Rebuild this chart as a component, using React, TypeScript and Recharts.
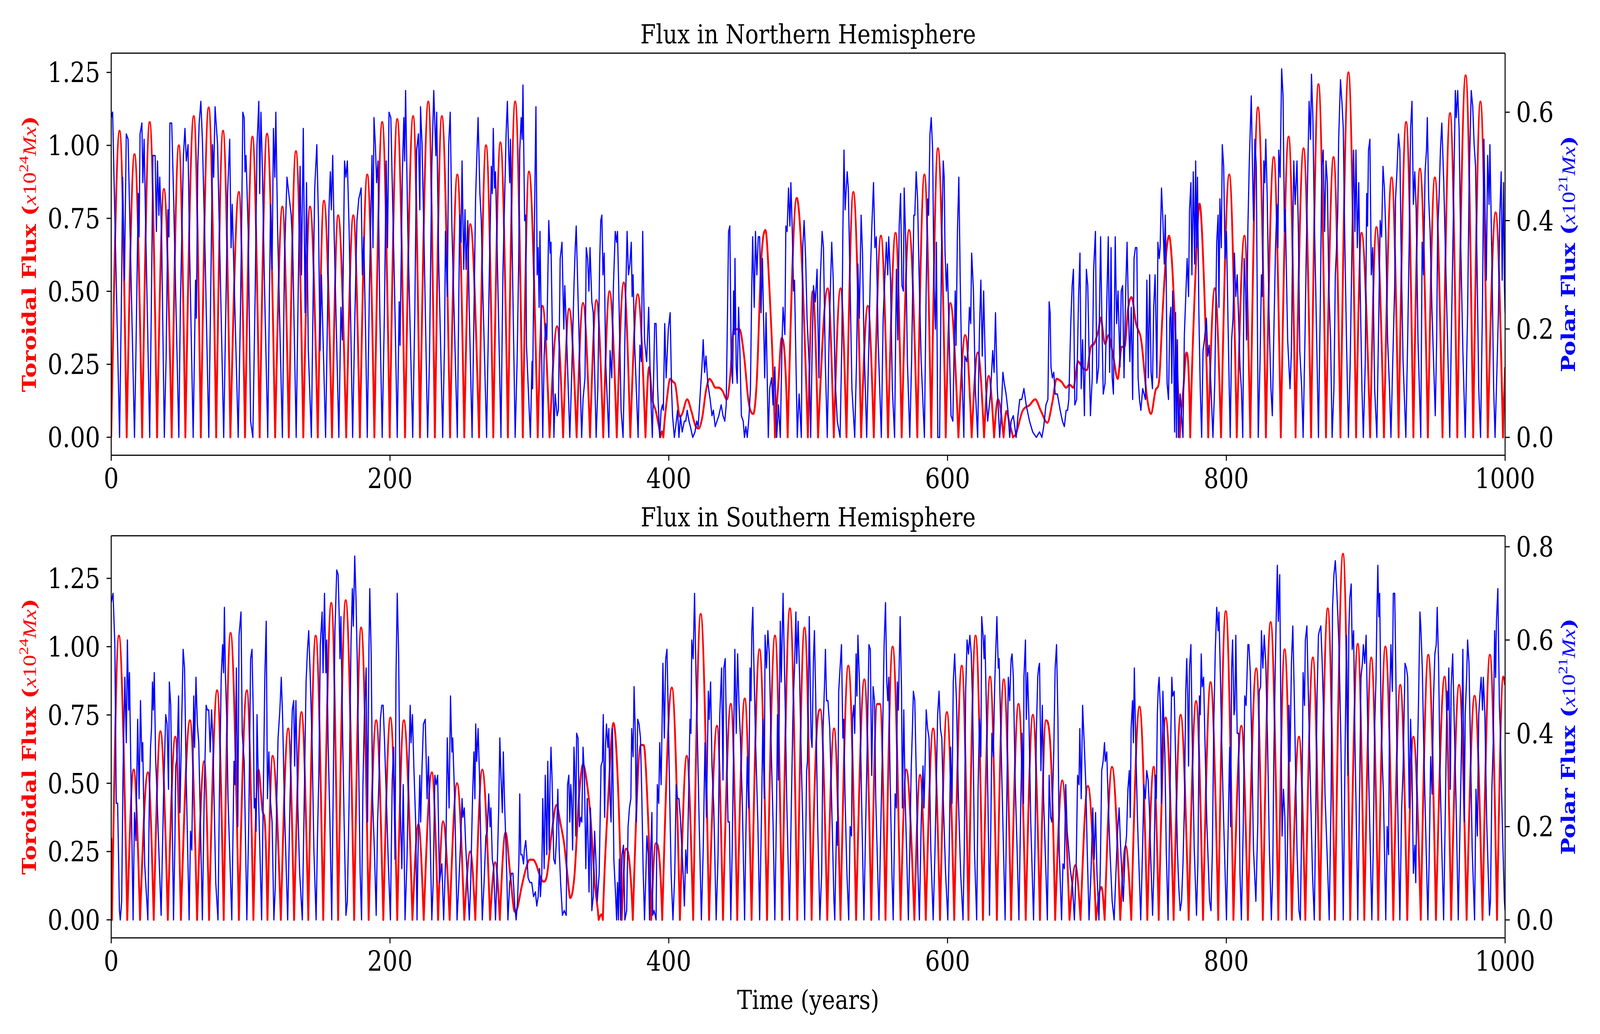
import React from 'react'
import { LineChart, Line, XAxis, YAxis, ReferenceLine } from 'recharts'

// [time (years), value] pairs
const northToroidal: number[][] = [
  [0, 0], [6.0, 1.05], [11.1, 0], [16.7, 0.97], [22.2, 0], [27.6, 1.08], [32.9, 0], [37.8, 0.85], [43.4, 0], [48.5, 1.0], [53.2, 0],
  [59.2, 1.1], [64.3, 0], [69.9, 1.13], [75.3, 0], [80.2, 1.05], [85.5, 0], [91.6, 0.84], [96.0, 0], [101.3, 1.03], [106.5, 0],
  [111.8, 1.04], [117.6, 0], [122.8, 0.79], [127.4, 0], [132.5, 0.98], [137.8, 0], [142.6, 0.79], [148.2, 0], [152.6, 0.81], [158.4, 0],
  [162.8, 0.76], [168.6, 0], [173.7, 0.76], [178.4, 0], [183.7, 0.9], [188.8, 0], [194.4, 1.08], [199.8, 0], [205.2, 1.09], [210.8, 0],
  [216.6, 1.1], [221.5, 0], [227.5, 1.15], [232.2, 0], [237.2, 1.1], [243.1, 0], [248.3, 0.9], [253.3, 0], [257.6, 0.73], [263.9, 0],
  [268.9, 1.0], [274.1, 0], [279.2, 1.01], [284.6, 0], [289.8, 1.15], [295.3, 0], [299.7, 0.91], [306.0, 0], [309.4, 0.45], [314.5, 0],
  [319.9, 0.38], [324.2, 0], [328.5, 0.44], [333.9, 0], [338.5, 0.46], [343.5, 0], [348.1, 0.47], [353.0, 0], [357.5, 0.5], [362.7, 0],
  [367.7, 0.53], [372.4, 0], [377.7, 0.49], [383.3, 0], [385.9, 0.24], [388.2, 0.13], [390.7, 0.09], [394.0, 0], [395.1, 0.02], [396.1, 0],
  [398.9, 0.14], [401.0, 0.2], [403.0, 0.19], [404.7, 0.18], [408.0, 0.07], [409.6, 0.08], [413.2, 0.13], [416.2, 0.09], [419.1, 0.04],
  [421.4, 0.03], [424.1, 0.07], [426.7, 0.16], [429.3, 0.2], [431.0, 0.19], [433.5, 0.17], [435.9, 0.17], [438.4, 0.16], [441.7, 0.13],
  [444.1, 0.21], [446.6, 0.37], [450.7, 0.37], [454.0, 0.28], [457.3, 0.12], [460.6, 0.08], [463.1, 0.19], [466.4, 0.61], [469.3, 0.71],
  [472.1, 0.52], [476.2, 0], [478.7, 0.19], [481.0, 0.34], [483.3, 0.27], [485.3, 0], [491.8, 0.82], [499.8, 0], [503.3, 0.5], [507.1, 0],
  [514.0, 0.51], [518.4, 0], [523.2, 0.51], [527.5, 0], [532.4, 0.84], [538.0, 0], [542.8, 0.45], [547.1, 0], [552.2, 0.69], [557.3, 0],
  [562.7, 0.7], [567.1, 0], [572.4, 0.71], [578.3, 0], [583.4, 0.9], [588.3, 0], [593.1, 0.99], [598.7, 0], [602.0, 0.46], [607.8, 0],
  [612.7, 0.35], [617.3, 0], [621.7, 0.29], [626.2, 0], [629.5, 0.21], [633.4, 0], [636.2, 0.13], [640.2, 0], [642.3, 0.09], [644.3, 0.05],
  [646.9, 0], [648.9, 0.01], [653.8, 0.09], [658.8, 0.11], [662.9, 0.13], [667.0, 0.09], [671.6, 0.05], [675.2, 0.12], [678.2, 0.2],
  [681.8, 0.19], [685.1, 0.17], [687.5, 0.18], [690.3, 0.17], [693.6, 0.26], [696.6, 0.24], [699.9, 0.23], [702.8, 0.31], [705.1, 0.32],
  [708.4, 0.37], [709.8, 0.41], [713.0, 0.32], [715.5, 0.35], [718.8, 0.28], [722.1, 0.2], [724.9, 0.31], [727.0, 0.31], [729.5, 0.44],
  [732.0, 0.48], [735.2, 0.39], [739.0, 0.33], [743.0, 0.14], [745.9, 0.08], [749.2, 0.16], [751.7, 0.19], [754.3, 0.43], [756.9, 0.63],
  [758.9, 0.69], [761.0, 0.6], [763.6, 0.34], [766.6, 0], [769.4, 0.18], [771.3, 0.29], [772.8, 0.24], [774.1, 0], [777.8, 0.55],
  [780.8, 0.8], [783.7, 0.57], [787.0, 0], [791.7, 0.51], [796.2, 0], [802.1, 0.9], [807.5, 0], [813.0, 0.69], [817.2, 0], [822.7, 1.13],
  [828.4, 0], [834.0, 0.96], [839.1, 0], [844.7, 1.03], [849.7, 0], [855.4, 0.99], [860.8, 0], [866.1, 1.21], [871.5, 0], [876.9, 0.96],
  [881.9, 0], [887.6, 1.25], [893.1, 0], [897.0, 0.7], [903.2, 0], [907.7, 0.72], [913.1, 0], [918.6, 0.89], [923.6, 0], [929.0, 1.08],
  [934.2, 0], [938.9, 0.92], [944.6, 0], [949.6, 0.89], [955.1, 0], [960.5, 1.11], [965.7, 0], [971.7, 1.24], [977.1, 0], [982.3, 1.15],
  [987.6, 0], [993.2, 0.77], [998.5, 0], [1000, 0.24],
]

const northPolar: number[][] = [
  [0, 0.59], [1, 0.6], [6.0, 0],
  [7.4, 0.27], [8.2, 0.48], [9.5, 0.29], [10.8, 0.56], [12.1, 0.55], [13.1, 0.43], [16.7, 0],
  [17.7, 0.15], [19.4, 0.45], [20.0, 0.37], [20.7, 0.56], [22.0, 0.58], [22.7, 0.47], [23.6, 0.55], [25.0, 0.35], [27.6, 0],
  [28.7, 0.22], [29.9, 0.52], [31.5, 0.52], [32.4, 0.38], [33.2, 0.51], [34.2, 0.41], [34.8, 0.48], [36.1, 0.38], [38.1, 0],
  [39.4, 0.15], [40.7, 0.42], [41.4, 0.37], [42.1, 0.58], [43.4, 0.58], [44.7, 0.45], [48.5, 0],
  [49.6, 0.24], [51.8, 0.52], [52.9, 0.57], [53.9, 0.51], [55.1, 0.54], [56.2, 0.35], [58.8, 0],
  [60.5, 0.29], [61.1, 0.22], [62.1, 0.5], [63.1, 0.58], [64.3, 0.62], [65.4, 0.55], [67.1, 0.37], [70.0, 0],
  [71.7, 0.33], [72.7, 0.54], [73.5, 0.48], [74.5, 0.61], [76.3, 0.54], [77.6, 0.38], [80.7, 0],
  [82.5, 0.28], [83.5, 0.45], [85.0, 0.55], [86.0, 0.35], [86.8, 0.43], [91.1, 0],
  [92.7, 0.23], [93.7, 0.42], [94.4, 0.6], [95.4, 0.59], [96.0, 0.49], [96.7, 0.52], [98.3, 0.38], [100.0, 0.03], [101.6, 0],
  [103.3, 0.27], [104.6, 0.54], [105.9, 0.62], [106.5, 0.45], [107.4, 0.6], [108.5, 0.49], [109.8, 0.3], [112.3, 0],
  [114.3, 0.43], [115.4, 0.31], [116.4, 0.57], [117.4, 0.48], [118.1, 0.6], [119.4, 0.38], [122.8, 0],
  [124.3, 0.33], [126.1, 0.48], [127.4, 0.45], [129.1, 0.41], [130.2, 0.35], [132.7, 0],
  [134.2, 0.28], [135.5, 0.5], [136.5, 0.3], [137.8, 0.57], [139.1, 0.23], [140.1, 0.47], [141.4, 0.16], [143.6, 0],
  [145.0, 0.29], [146.0, 0.46], [147.5, 0.54], [148.7, 0.4], [149.8, 0.16], [150.8, 0.3], [153.8, 0],
  [155.2, 0.23], [156.2, 0.42], [157.2, 0.49], [157.9, 0.42], [158.9, 0.52], [159.9, 0.38], [163.3, 0],
  [164.8, 0.24], [165.8, 0.18], [167.4, 0.51], [168.4, 0.48], [169.4, 0.51], [170.7, 0.38], [173.2, 0],
  [174.7, 0.21], [176.3, 0.4], [177.6, 0.44], [179.3, 0.46], [180.2, 0.3], [181.2, 0.37], [182.5, 0.19], [183.7, 0],
  [185.2, 0.27], [187.1, 0.52], [187.8, 0.35], [188.5, 0.59], [189.5, 0.54], [190.4, 0.47], [191.4, 0.51], [192.7, 0.23], [194.4, 0],
  [196.0, 0.23], [197.3, 0.51], [198.2, 0.35], [199.3, 0.6], [200.6, 0.59], [201.6, 0.47], [203.3, 0.27], [205.2, 0],
  [206.6, 0.25], [207.2, 0.17], [208.9, 0.49], [209.9, 0.59], [210.5, 0.51], [211.2, 0.64], [212.8, 0.38], [216.3, 0],
  [217.8, 0.23], [219.1, 0.53], [220.4, 0.56], [221.4, 0.42], [221.9, 0.61], [223.0, 0.54], [224.3, 0.38], [227.0, 0],
  [228.3, 0.14], [230.0, 0.5], [231.4, 0.64], [232.9, 0.52], [233.5, 0.6], [234.9, 0.33], [237.8, 0],
  [239.1, 0.17], [239.8, 0.38], [241.1, 0.26], [242.1, 0.54], [243.2, 0.6], [244.4, 0.39], [248.3, 0],
  [250.0, 0.41], [251.0, 0.36], [251.7, 0.51], [252.9, 0.31], [253.8, 0.42], [254.6, 0.31], [255.8, 0.4], [256.9, 0.23], [258.9, 0],
  [260.2, 0.22], [261.4, 0.44], [262.2, 0.51], [263.2, 0.59], [264.5, 0.45], [265.5, 0.4], [266.5, 0.28], [269.3, 0],
  [271.1, 0.28], [272.7, 0.5], [273.4, 0.45], [274.1, 0.57], [275.0, 0.46], [275.7, 0.49], [276.7, 0.37], [279.6, 0],
  [281.0, 0.3], [283.3, 0.56], [284.2, 0.62], [285.1, 0.53], [285.9, 0.47], [286.4, 0.55], [287.4, 0.39], [289.8, 0],
  [291.2, 0.14], [292.3, 0.32], [293.1, 0.53], [294.1, 0.59], [294.8, 0.55], [295.4, 0.65], [296.6, 0.4], [297.4, 0.41], [297.9, 0.17], [300.7, 0],
  [301.9, 0.14], [302.3, 0.09], [303.7, 0.41], [304.7, 0.61], [305.6, 0.3], [306.3, 0.35], [307.0, 0.24], [307.6, 0.38], [309.6, 0],
  [310.6, 0.15], [311.6, 0.21], [312.5, 0.18], [313.9, 0.4], [314.9, 0.34], [315.5, 0.36], [317.6, 0],
  [318.5, 0.08], [319.9, 0.04], [320.8, 0.05], [322.1, 0.33], [323.4, 0.36], [324.7, 0.2], [325.4, 0.28], [326.4, 0.21], [329.0, 0],
  [330.3, 0.11], [332.0, 0.28], [332.9, 0.35], [333.6, 0.39], [334.4, 0.31], [335.2, 0.23], [337.5, 0],
  [338.5, 0.07], [339.9, 0.11], [340.8, 0.35], [341.8, 0.33], [342.7, 0.27], [343.5, 0.35], [344.8, 0.25], [345.8, 0.23], [347.9, 0],
  [349.1, 0.09], [350.4, 0.32], [351.2, 0.4], [352.0, 0.41], [352.8, 0.3], [353.7, 0.34], [354.7, 0.14], [357.0, 0],
  [357.9, 0.16], [359.1, 0.11], [360.3, 0.28], [361.6, 0.38], [362.6, 0.36], [363.2, 0.38], [363.9, 0.3], [365.8, 0.05], [367.2, 0],
  [368.1, 0.11], [368.8, 0.23], [370.1, 0.38], [371.1, 0.3], [372.1, 0.32], [373.1, 0.36], [373.7, 0.26], [374.4, 0.3], [375.4, 0.18], [378.0, 0],
  [379.3, 0.17], [380.3, 0.14], [381.3, 0.38], [382.6, 0.18], [384.1, 0.14], [385.6, 0.24], [386.9, 0.09], [388.2, 0],
  [389.2, 0.12], [389.9, 0.21], [390.9, 0.21], [392.0, 0.09], [393.5, 0], [394.5, 0.05], [395.5, 0.06], [396.1, 0.05], [397.1, 0.21],
  [398.1, 0.11], [399.7, 0.2], [401.0, 0.23], [402.0, 0.09], [402.7, 0.04], [404.0, 0], [405.0, 0.02], [406.3, 0.05], [407.3, 0],
  [408.4, 0.04], [409.6, 0.01], [411.2, 0.03], [412.2, 0.03], [413.2, 0.05], [414.5, 0.03], [415.5, 0.02], [417.2, 0], [418.8, 0.01],
  [420.1, 0.03], [421.1, 0.02], [422.8, 0.09], [423.8, 0.13], [424.7, 0.18], [425.7, 0.12], [426.7, 0.15], [428.0, 0.1], [429.7, 0.07],
  [431.0, 0.04], [432.0, 0.05], [433.3, 0.02], [434.6, 0.03], [435.9, 0.04], [437.6, 0.06], [438.9, 0.04], [440.2, 0.03], [441.2, 0.06],
  [442.2, 0.24], [442.9, 0.38], [443.8, 0.39], [444.8, 0.14], [445.8, 0.1], [446.5, 0.27], [447.1, 0.19], [447.5, 0.33], [448.4, 0.13],
  [449.1, 0.1], [450.1, 0.24], [451.1, 0.15], [452.1, 0.04], [453.4, 0.03], [454.3, 0], [455.3, 0.02], [456.3, 0], [457.6, 0.04],
  [458.6, 0.09], [459.6, 0.29], [460.2, 0.37], [461.3, 0.24], [462.2, 0.38], [463.2, 0.3], [464.2, 0.37], [465.2, 0.37], [466.2, 0.23],
  [467.2, 0.33], [468.8, 0.11], [469.8, 0.23], [471.4, 0], [472.4, 0.09], [473.8, 0.11], [474.8, 0.06], [476.1, 0.13], [477.4, 0],
  [478.7, 0.06], [480.0, 0], [481.3, 0.18], [482.0, 0.24], [483.3, 0.19], [484.0, 0.39], [484.9, 0.38], [485.9, 0.46], [486.9, 0.39],
  [487.6, 0.47], [488.6, 0.38], [489.5, 0.27], [490.2, 0.29], [492.2, 0], [493.5, 0.08], [495.1, 0], [496.1, 0.35], [497.1, 0.4],
  [498.2, 0.33], [499.2, 0.22], [500.8, 0.13], [501.8, 0],
  [502.8, 0.15], [503.8, 0.28], [505.1, 0.25], [506.4, 0.31], [507.7, 0.11], [508.7, 0.29], [510.0, 0.38], [511.0, 0.35], [512.3, 0.14], [513.7, 0],
  [515.0, 0.18], [516.0, 0.28], [516.9, 0.36], [518.0, 0.29], [519.3, 0.11], [520.9, 0.03], [522.9, 0],
  [524.2, 0.18], [524.9, 0.38], [525.7, 0.53], [526.5, 0.42], [528.0, 0.49], [528.8, 0.46], [530.1, 0.28], [531.4, 0.09], [533.4, 0],
  [534.7, 0.14], [535.7, 0.32], [536.7, 0.22], [538.0, 0.41], [539.0, 0.34], [540.0, 0.18], [542.0, 0],
  [543.6, 0.18], [544.6, 0.3], [545.7, 0.39], [546.9, 0.47], [547.9, 0.35], [548.9, 0.37], [550.2, 0.18], [552.5, 0],
  [553.8, 0.22], [555.1, 0.3], [556.1, 0.36], [557.1, 0.3], [557.8, 0.37], [559.1, 0.29], [560.4, 0.09], [562.0, 0],
  [563.3, 0.31], [564.3, 0.18], [565.3, 0.39], [566.3, 0.45], [567.3, 0.28], [568.3, 0.27], [568.9, 0.46], [569.9, 0.37], [571.2, 0.14], [572.9, 0],
  [574.2, 0.14], [575.8, 0.41], [576.5, 0.41], [577.5, 0.49], [578.5, 0.44], [579.5, 0.31], [581.1, 0.14], [583.4, 0],
  [584.7, 0.28], [585.7, 0.44], [586.4, 0.41], [587.4, 0.56], [588.3, 0.59], [589.3, 0.53], [590.3, 0.28], [591.3, 0.2], [592.0, 0.36], [593.0, 0], [594.3, 0],
  [595.6, 0.33], [596.9, 0.51], [597.6, 0.48], [598.2, 0.34], [599.2, 0.27], [599.9, 0.32], [601.2, 0.18], [602.5, 0.04], [603.8, 0.03],
  [605.5, 0.27], [606.1, 0.17], [607.1, 0.38], [608.1, 0.48], [609.1, 0.29], [610.1, 0.14], [611.7, 0],
  [612.4, 0.15], [613.7, 0.14], [614.7, 0.16], [615.7, 0.24], [616.6, 0.21], [617.3, 0.34], [618.6, 0.27], [619.9, 0.09], [621.6, 0],
  [622.9, 0.2], [623.9, 0.29], [624.9, 0.15], [625.9, 0.27], [627.5, 0.09], [628.8, 0.03], [630.8, 0.08], [632.4, 0.16], [633.4, 0.12],
  [634.4, 0.23], [635.7, 0.09], [637.4, 0], [638.4, 0.04], [639.7, 0.12], [640.7, 0.1], [642.0, 0.08], [643.3, 0.05], [644.6, 0],
  [645.6, 0.03], [647.2, 0.04], [649.2, 0], [650.5, 0.04], [651.8, 0.07], [653.2, 0.07], [654.8, 0.09], [656.4, 0.06], [658.8, 0.03],
  [661.1, 0.01], [663.7, 0], [666.0, 0.01], [667.7, 0], [669.0, 0.02], [670.6, 0.06], [672.0, 0.07], [672.9, 0.25], [673.6, 0.23],
  [674.2, 0.13], [675.2, 0.11], [676.2, 0.12], [677.2, 0.08], [678.8, 0.08], [680.8, 0.05], [682.4, 0.03], [683.8, 0.02], [685.1, 0.05],
  [686.1, 0.05], [687.0, 0.07], [688.4, 0.21], [689.4, 0.28], [690.3, 0.31], [691.3, 0.06], [692.6, 0.07], [694.0, 0.26], [695.0, 0.34],
  [695.9, 0.09], [696.9, 0.18], [698.2, 0.04], [699.6, 0.31], [700.6, 0.28], [701.5, 0.16], [702.5, 0.04], [703.8, 0.11], [704.8, 0.31],
  [706.1, 0.38], [707.1, 0.1], [708.4, 0.13], [709.8, 0.37], [710.7, 0.22], [711.7, 0.08], [713.0, 0.1], [714.0, 0.22], [715.3, 0.37],
  [716.3, 0.12], [717.3, 0.35], [718.1, 0.11], [719.0, 0.08], [720.3, 0.37], [721.3, 0.21], [722.3, 0.27], [723.7, 0.13], [724.6, 0.27],
  [725.6, 0.28], [726.6, 0.11], [727.9, 0.28], [728.8, 0.36], [729.8, 0.23], [730.8, 0.14], [731.8, 0.24], [732.8, 0.07], [733.8, 0.33],
  [734.8, 0.35], [735.8, 0.35], [736.7, 0.11], [737.7, 0.07], [738.7, 0.05], [740.0, 0.09], [741.0, 0.08], [742.0, 0.07], [743.0, 0.29],
  [744.0, 0.11], [745.0, 0.3], [746.0, 0.12], [747.0, 0.09], [747.9, 0.24], [748.9, 0.3], [750.2, 0.11], [750.9, 0.36], [751.9, 0.33],
  [752.5, 0.35], [753.5, 0.46], [754.5, 0.4], [755.5, 0.32], [756.2, 0.41], [756.9, 0.29], [757.5, 0.1], [758.5, 0.07], [759.5, 0.22],
  [760.2, 0.24], [760.9, 0.1], [761.5, 0.27], [762.2, 0.16], [762.9, 0.01], [763.6, 0.23], [764.2, 0], [764.9, 0.18], [765.6, 0],
  [766.9, 0.08], [767.9, 0.04], [768.9, 0], [769.9, 0.19], [770.9, 0.26], [771.9, 0.33], [772.9, 0.26], [773.6, 0.42], [774.6, 0.47],
  [775.3, 0.3], [776.3, 0.49], [777.3, 0.32], [778.0, 0.51], [778.6, 0.35], [779.3, 0.48], [780.3, 0.23], [781.3, 0.09], [782.3, 0],
  [783.3, 0.16], [784.3, 0.18], [785.7, 0.22], [786.7, 0.15], [787.7, 0.17], [789.0, 0.09], [790.4, 0],
  [791.7, 0.1], [793.1, 0.36], [794.1, 0.41], [794.7, 0.24], [795.4, 0.44], [796.4, 0.35], [797.1, 0.54], [798.1, 0.5], [799.1, 0.33],
  [800.1, 0.38], [801.1, 0.23], [802.1, 0.09], [802.8, 0],
  [803.8, 0.18], [804.8, 0.22], [805.8, 0.34], [806.8, 0.26], [807.8, 0.3], [808.8, 0.22], [809.8, 0.13], [810.8, 0.09], [811.8, 0],
  [812.8, 0.33], [813.8, 0.27], [814.5, 0.18], [815.5, 0.39], [816.5, 0.51], [817.9, 0.63], [818.9, 0.48], [819.5, 0.4], [820.5, 0.55], [821.5, 0.5], [822.9, 0],
  [824.2, 0.14], [825.2, 0.3], [825.9, 0.26], [826.9, 0.51], [827.6, 0.47], [828.3, 0.55], [829.3, 0.45], [830.6, 0.23], [832.0, 0.09], [833.0, 0.04],
  [834.0, 0.18], [835.3, 0.35], [836.3, 0.43], [837.0, 0.35], [837.6, 0.53], [838.6, 0.48], [839.7, 0.68], [840.7, 0.63], [841.7, 0.38],
  [842.3, 0.42], [844.0, 0.18], [845.7, 0.09], [846.7, 0.16], [847.4, 0.32], [848.4, 0.51], [849.4, 0.43], [850.7, 0.51], [851.7, 0.38],
  [852.7, 0.16], [854.1, 0.09], [855.1, 0],
  [856.4, 0.18], [857.4, 0.35], [858.4, 0.49], [859.4, 0.62], [860.4, 0.55], [861.1, 0.67], [862.1, 0.59], [863.1, 0.41], [864.1, 0.28], [866.1, 0],
  [867.5, 0.26], [868.5, 0.5], [869.5, 0.53], [870.5, 0.38], [871.5, 0.51], [872.5, 0.47], [873.5, 0.28], [874.8, 0.18], [875.9, 0],
  [877.2, 0.09], [878.2, 0.3], [878.9, 0.34], [879.9, 0.41], [880.6, 0.55], [881.9, 0.66], [882.9, 0.62], [883.9, 0.57], [884.9, 0.38], [886.2, 0.18], [887.6, 0],
  [888.9, 0.14], [890.3, 0.38], [891.3, 0.53], [892.3, 0.38], [893.0, 0.53], [894.0, 0.35], [895.0, 0.47], [896.0, 0.28], [897.3, 0.09], [898.3, 0],
  [899.7, 0.14], [900.7, 0.45], [901.3, 0.39], [902.0, 0.53], [903.0, 0.55], [904.0, 0.3], [905.0, 0.35], [906.4, 0.09], [908.0, 0],
  [909.4, 0.23], [910.4, 0.4], [911.4, 0.37], [912.4, 0.5], [913.4, 0.46], [914.4, 0.38], [915.7, 0.18], [917.1, 0.09], [918.1, 0],
  [919.4, 0.14], [920.8, 0.28], [921.4, 0.44], [922.4, 0.49], [923.5, 0.56], [924.5, 0.53], [925.5, 0.33], [926.8, 0.14], [928.8, 0],
  [930.1, 0.18], [931.2, 0.36], [932.2, 0.57], [933.2, 0.62], [934.2, 0.43], [935.2, 0.49], [936.2, 0.42], [937.5, 0.18], [939.5, 0],
  [940.5, 0.36], [941.5, 0.3], [942.6, 0.49], [943.6, 0.53], [944.2, 0.59], [945.2, 0.44], [946.2, 0.38], [947.6, 0.23], [949.9, 0.04],
  [950.9, 0.18], [951.6, 0.38], [952.6, 0.44], [953.6, 0.53], [954.6, 0.58], [956.0, 0.47], [957.3, 0.33], [958.7, 0.18], [960.3, 0],
  [961.7, 0.23], [962.7, 0.38], [963.3, 0.48], [964.3, 0.64], [965.0, 0.59], [966.0, 0.64], [967.0, 0.57], [968.0, 0.38], [969.7, 0.16], [971.4, 0],
  [973.1, 0.23], [974.1, 0.45], [974.7, 0.53], [975.7, 0.64], [976.8, 0.61], [977.8, 0.54], [978.8, 0.5], [979.8, 0.33], [981.1, 0.09], [982.4, 0],
  [983.8, 0.25], [984.8, 0.55], [985.5, 0.44], [986.5, 0.29], [987.5, 0.52], [988.5, 0.43], [989.1, 0.54], [990.5, 0.33], [991.8, 0.09], [992.8, 0],
  [994.2, 0.13], [995.2, 0.23], [996.2, 0.41], [997.2, 0.49], [997.9, 0.29], [998.9, 0.47], [999.5, 0.28], [1000, 0.23],
]

const southToroidal: number[][] = [
  [0, 0.3], [0.5, 0], [5.5, 1.04], [11.5, 0], [16.1, 0.55], [20.7, 0], [26.3, 0.54], [30.5, 0], [35.3, 0.69], [40.6, 0], [46.0, 0.67],
  [50.0, 0], [56.5, 0.73], [61.6, 0], [66.7, 0.58], [70.2, 0], [76.0, 0.84], [80.7, 0], [85.6, 1.05], [91.6, 0], [97.3, 0.84], [102.0, 0],
  [105.6, 0.55], [108.5, 0.4], [110.2, 0.36], [112.1, 0], [115.8, 0.6], [121.7, 0], [127.0, 0.7], [131.2, 0], [136.5, 0.76], [141.4, 0],
  [146.7, 1.04], [152.1, 0], [157.9, 1.16], [162.8, 0], [168.2, 1.17], [174.3, 0], [179.3, 1.07], [184.7, 0], [190.1, 0.73], [195.2, 0],
  [200.3, 0.74], [205.2, 0], [209.9, 0.73], [216.1, 0], [220.4, 0.35], [224.2, 0], [230.0, 0.54], [234.5, 0], [238.1, 0.36], [242.8, 0],
  [248.1, 0.5], [253.3, 0], [257.6, 0.25], [261.2, 0], [266.2, 0.55], [271.8, 0], [275.5, 0.21], [278.8, 0], [282.9, 0.32], [286.2, 0.17],
  [289.5, 0.03], [291.2, 0.04], [294.4, 0.12], [297.7, 0.19], [300.2, 0.22], [302.7, 0.22], [305.1, 0.2], [307.6, 0.16], [310.1, 0.14],
  [312.5, 0.16], [315.8, 0.31], [319.5, 0.42], [322.4, 0.35], [324.9, 0.28], [327.4, 0.16], [329.3, 0.08], [332.3, 0.16], [335.6, 0.45],
  [338.5, 0.57], [341.3, 0.5], [343.8, 0.38], [346.8, 0.14], [349.7, 0], [351.7, 0.02], [352.7, 0], [356.6, 0.45], [360.3, 0.72],
  [363.5, 0.5], [366.2, 0], [369.3, 0.26], [371.8, 0.21], [374.2, 0], [380.0, 0.64], [382.0, 0.64], [384.1, 0.5], [387.4, 0],
  [390.7, 0.28], [393.2, 0.23], [395.3, 0], [402.2, 0.85], [408.0, 0], [412.9, 0.6], [417.5, 0], [422.9, 1.12], [428.9, 0], [434.6, 0.71],
  [438.9, 0], [444.5, 0.79], [449.1, 0], [454.5, 0.81], [459.4, 0], [465.1, 0.99], [470.5, 0], [476.2, 1.04], [481.3, 0], [486.9, 1.14],
  [492.2, 0], [497.4, 1.07], [502.5, 0], [505.8, 0.65], [508.7, 0.77], [513.7, 0], [518.6, 0.7], [523.2, 0], [528.8, 0.93], [534.4, 0],
  [540.3, 0.88], [545.3, 0], [549.5, 0.79], [551.5, 0.79], [555.5, 0], [560.6, 1.0], [566.3, 0], [570.4, 0.55], [576.2, 0], [580.3, 0.53],
  [584.4, 0], [589.7, 0.7], [594.6, 0], [599.5, 0.76], [604.8, 0], [610.2, 0.93], [615.0, 0], [620.1, 1.04], [625.4, 0], [630.5, 0.89],
  [635.4, 0], [640.3, 0.88], [645.6, 0], [650.9, 0.79], [656.1, 0], [661.2, 0.75], [666.3, 0], [670.6, 0.73], [673.6, 0.65], [677.2, 0],
  [682.3, 0.51], [687.5, 0], [691.7, 0.2], [695.4, 0], [700.7, 0.49], [706.5, 0], [710.4, 0.12], [712.7, 0], [718.0, 0.56], [723.9, 0],
  [727.8, 0.27], [731.8, 0], [737.7, 0.78], [743.3, 0], [747.9, 0.56], [751.5, 0], [756.5, 0.74], [762.2, 0], [767.2, 0.75], [773.0, 0],
  [778.3, 0.8], [783.3, 0], [788.7, 0.87], [794.2, 0], [799.6, 1.13], [805.1, 0], [810.8, 0.71], [815.5, 0], [821.5, 0.92], [826.2, 0],
  [831.8, 1.09], [837.3, 0], [841.8, 0.99], [847.0, 0], [852.1, 0.67], [856.7, 0], [862.1, 0.96], [867.1, 0], [872.8, 1.14], [877.9, 0],
  [883.7, 1.34], [888.9, 0], [894.3, 1.01], [899.0, 0], [904.0, 0.96], [909.0, 0], [914.1, 1.0], [919.8, 0], [924.8, 0.86], [929.8, 0],
  [934.2, 0.67], [939.5, 0], [944.9, 0.97], [950.4, 0], [956.6, 0.89], [961.3, 0], [967.0, 0.86], [972.4, 0], [978.1, 0.82], [983.8, 0],
  [989.1, 0.97], [994.2, 0], [998.7, 0.89], [1000, 0.86],
]

const southPolar: number[][] = [
  [0, 0.68], [1.3, 0.7], [2.6, 0.59], [3.6, 0.25], [4.6, 0.25], [5.9, 0.02], [6.5, 0], [7.5, 0.04], [8.5, 0.32], [9.8, 0.52], [10.8, 0.38],
  [11.6, 0.6], [12.5, 0.45], [13.1, 0.53], [14.1, 0.32], [15.7, 0],
  [16.7, 0.23], [17.7, 0.17], [19.0, 0.43], [20.0, 0.26], [21.0, 0.47], [22.0, 0.34], [22.6, 0.38], [24.0, 0.12], [26.3, 0],
  [27.3, 0.25], [28.2, 0.37], [28.9, 0.41], [29.6, 0.51], [30.2, 0.45], [30.9, 0.53], [31.9, 0.34], [32.5, 0.3], [33.8, 0.18], [35.8, 0.01],
  [37.5, 0.26], [39.1, 0.44], [40.1, 0.42], [41.1, 0.28], [41.7, 0.51], [42.7, 0.46], [44.7, 0],
  [45.7, 0.17], [46.3, 0.33], [47.3, 0.35], [48.3, 0.48], [49.3, 0.23], [50.6, 0.43], [51.6, 0.58], [52.6, 0.54], [53.9, 0.29], [55.9, 0],
  [56.9, 0.19], [57.8, 0.15], [59.2, 0.48], [59.8, 0.37], [60.8, 0.52], [61.8, 0.42], [62.8, 0.38], [65.4, 0],
  [66.7, 0.26], [68.1, 0.46], [69.0, 0.45], [70.0, 0.45], [71.0, 0.36], [72.0, 0.45], [73.0, 0.38], [75.0, 0.08], [76.6, 0],
  [77.6, 0.26], [78.9, 0.52], [79.9, 0.59], [80.6, 0.53], [81.2, 0.67], [81.9, 0.53], [82.9, 0.43], [83.8, 0.26], [86.5, 0],
  [88.1, 0.34], [88.8, 0.29], [89.8, 0.54], [90.8, 0.2], [91.7, 0.61], [93.1, 0.66], [94.0, 0.4], [95.4, 0.34], [97.3, 0],
  [98.7, 0.21], [100.0, 0.56], [101.0, 0.58], [102.0, 0.43], [102.6, 0.24], [103.3, 0.26], [103.9, 0.19], [104.6, 0.44], [105.9, 0.24], [107.9, 0],
  [109.2, 0.29], [110.2, 0.52], [111.2, 0.64], [112.1, 0.26], [113.1, 0.36], [114.1, 0.26], [115.4, 0.21], [116.7, 0],
  [117.7, 0.07], [118.7, 0.25], [119.7, 0.39], [121.0, 0.45], [122.0, 0.52], [123.0, 0.43], [124.3, 0.24], [126.6, 0],
  [128.3, 0.26], [129.9, 0.45], [130.9, 0.47], [131.6, 0.33], [132.5, 0.47], [133.9, 0.24], [135.2, 0.1], [137.1, 0],
  [138.5, 0.26], [139.1, 0.38], [139.8, 0.51], [140.8, 0.58], [141.7, 0.62], [142.7, 0.53], [144.1, 0.38], [145.4, 0.15], [147.0, 0],
  [148.0, 0.18], [149.0, 0.32], [150.0, 0.59], [151.3, 0.66], [152.0, 0.53], [153.0, 0.7], [154.0, 0.53], [154.6, 0.6], [155.6, 0.38], [156.9, 0.21], [158.2, 0],
  [159.2, 0.26], [160.5, 0.62], [161.8, 0.75], [162.8, 0.74], [163.5, 0.66], [164.1, 0.56], [164.8, 0.65], [166.1, 0.38], [167.1, 0.21], [168.4, 0.01], [169.4, 0.04],
  [170.7, 0.26], [172.0, 0.59], [173.0, 0.71], [173.7, 0.63], [174.7, 0.78], [175.6, 0.69], [176.6, 0.54], [177.6, 0.32], [178.6, 0.1], [179.6, 0],
  [180.6, 0.29], [181.6, 0.43], [182.9, 0.54], [183.9, 0.21], [184.9, 0.58], [185.5, 0.71], [186.5, 0.57], [187.5, 0.26], [188.8, 0.15], [190.1, 0.01],
  [191.1, 0.21], [192.1, 0.3], [193.1, 0.43], [194.1, 0.46], [195.1, 0.46], [196.0, 0.39], [197.4, 0.26], [198.7, 0.13], [200.3, 0],
  [201.6, 0.3], [202.6, 0.37], [203.6, 0.13], [204.3, 0.52], [205.2, 0.7], [206.2, 0.57], [207.2, 0.26], [208.5, 0.11], [209.5, 0.29], [210.8, 0],
  [212.2, 0.13], [213.5, 0.33], [214.5, 0.46], [215.1, 0.38], [216.1, 0.44], [217.1, 0.33], [218.4, 0.21], [219.4, 0],
  [220.0, 0.13], [221.4, 0.31], [222.0, 0.21], [223.0, 0.33], [224.0, 0.42], [225.3, 0.43], [226.6, 0.26], [227.6, 0.35], [228.6, 0.21], [230.0, 0],
  [231.0, 0.08], [232.2, 0.31], [233.2, 0.29], [234.2, 0.31], [235.5, 0.08], [237.2, 0.12], [238.5, 0],
  [240.1, 0.15], [241.1, 0.39], [242.4, 0.24], [243.4, 0.48], [244.4, 0.36], [245.0, 0.39], [246.4, 0.26], [248.1, 0],
  [249.7, 0.1], [250.7, 0.17], [251.7, 0.26], [252.3, 0.22], [253.3, 0.24], [254.3, 0.16], [255.3, 0.1], [256.9, 0],
  [257.9, 0.08], [259.2, 0.26], [260.2, 0.36], [260.9, 0.26], [261.5, 0.42], [262.2, 0.34], [263.2, 0.41], [264.2, 0.31], [266.2, 0],
  [267.5, 0.08], [268.8, 0.18], [269.8, 0.19], [270.8, 0.27], [271.8, 0.2], [272.4, 0.24], [273.4, 0.13], [274.4, 0.11], [275.7, 0],
  [277.0, 0.12], [278.0, 0.24], [278.8, 0.39], [279.6, 0.31], [280.6, 0.23], [281.3, 0.36], [282.3, 0.24], [283.3, 0.15], [284.6, 0],
  [285.9, 0.08], [287.2, 0.1], [288.2, 0.1], [289.5, 0.03], [290.5, 0], [291.5, 0.04], [292.5, 0.13], [293.1, 0.27], [293.8, 0.14],
  [294.8, 0.14], [295.8, 0.12], [296.4, 0.15], [297.4, 0.17], [298.1, 0.14], [299.1, 0.09], [300.4, 0.08], [301.7, 0.08], [303.0, 0.05],
  [304.3, 0.06], [305.3, 0.03], [306.3, 0.05], [307.3, 0.11], [307.9, 0.05], [308.9, 0.1], [309.6, 0.26], [310.6, 0.11], [311.4, 0.31],
  [312.5, 0.14], [313.2, 0.34], [314.2, 0.15], [314.8, 0.29], [315.5, 0.37], [316.2, 0.31], [317.5, 0.13], [318.5, 0.12], [319.5, 0.18],
  [320.4, 0.28], [321.4, 0.15], [322.4, 0.08], [323.7, 0.01], [325.0, 0.02], [326.4, 0.01], [327.4, 0.29], [328.3, 0.31], [329.0, 0.21],
  [329.7, 0.29], [330.3, 0.26], [331.0, 0.15], [332.0, 0.37], [332.6, 0.32], [333.3, 0.18], [333.9, 0.4], [334.9, 0.39], [335.9, 0.2],
  [336.9, 0.22], [337.6, 0.21], [338.5, 0.37], [339.5, 0.31], [340.5, 0.11], [341.5, 0.26], [342.8, 0.06], [343.8, 0.24], [344.8, 0.02],
  [345.8, 0.05], [346.8, 0.19], [347.7, 0.13], [348.7, 0.04], [350.1, 0.1], [351.4, 0.33], [352.4, 0.34], [353.0, 0.44], [354.0, 0.22],
  [354.7, 0.38], [355.3, 0.42], [356.3, 0.37], [357.0, 0.41], [358.0, 0.25], [358.6, 0.21], [359.6, 0.41], [360.6, 0.13], [361.9, 0.05],
  [362.6, 0], [363.2, 0.08], [363.9, 0], [364.5, 0.13], [365.5, 0], [366.5, 0.14], [367.5, 0.16], [368.5, 0], [369.8, 0.02], [370.8, 0.2],
  [371.8, 0.24], [372.8, 0.26], [373.4, 0.41], [374.4, 0.35], [375.1, 0.5], [376.0, 0.4], [376.7, 0.21], [377.7, 0.43], [378.7, 0.42],
  [379.7, 0.39], [380.7, 0.26], [381.6, 0.11], [382.6, 0], [383.6, 0.1], [384.3, 0.18], [385.3, 0.14], [386.2, 0], [387.2, 0.16],
  [387.9, 0.23], [388.5, 0.01], [389.5, 0.02], [390.9, 0],
  [391.8, 0.29], [392.8, 0.25], [393.5, 0.38], [394.5, 0.29], [395.1, 0.4], [395.8, 0.55], [396.8, 0.39], [397.8, 0.56], [398.7, 0.58], [399.7, 0.43], [400.7, 0.26], [401.7, 0.1], [403.0, 0],
  [404.3, 0.1], [405.3, 0.29], [406.3, 0.26], [407.3, 0.26], [408.3, 0.22], [409.3, 0.16], [410.3, 0.1], [411.2, 0.03], [412.2, 0.15],
  [413.2, 0.1], [414.2, 0.26], [415.2, 0.43], [415.9, 0.4], [416.5, 0.6], [417.5, 0.56], [418.5, 0.7], [419.5, 0.53], [420.5, 0.4], [421.8, 0.21], [423.4, 0],
  [424.7, 0.15], [426.0, 0.38], [427.0, 0.22], [428.4, 0.49], [429.0, 0.43], [430.0, 0.51], [431.0, 0.33], [432.3, 0.24], [434.0, 0],
  [435.3, 0.13], [436.6, 0.44], [437.9, 0.54], [438.9, 0.3], [439.5, 0.54], [440.5, 0.56], [441.5, 0.38], [442.5, 0.21], [443.5, 0.21], [444.5, 0],
  [445.5, 0.15], [446.4, 0.35], [447.4, 0.58], [448.4, 0.4], [449.4, 0.57], [450.4, 0.46], [451.4, 0.39], [452.7, 0.26], [454.4, 0],
  [455.3, 0.18], [456.3, 0.35], [457.3, 0.24], [458.3, 0.54], [459.0, 0.47], [459.6, 0.62], [460.3, 0.67], [460.9, 0.57], [462.3, 0.38], [463.9, 0.21], [465.2, 0],
  [466.5, 0.22], [467.5, 0.43], [468.5, 0.26], [469.1, 0.61], [470.1, 0.54], [471.1, 0.62], [472.1, 0.57], [473.4, 0.38], [474.8, 0.21], [476.1, 0],
  [477.4, 0.26], [478.0, 0.44], [478.7, 0.3], [480.0, 0.64], [480.7, 0.51], [482.0, 0.7], [483.0, 0.54], [483.6, 0.45], [484.6, 0.26], [486.6, 0],
  [487.9, 0.24], [489.2, 0.46], [490.2, 0.54], [491.2, 0.66], [491.8, 0.55], [492.8, 0.64], [493.8, 0.53], [494.8, 0.38], [496.1, 0.21], [497.5, 0],
  [498.9, 0.32], [499.5, 0.34], [500.8, 0.65], [502.1, 0.39], [502.8, 0.37], [503.8, 0.56], [504.5, 0.62], [505.4, 0.48], [506.8, 0.21], [508.4, 0],
  [509.7, 0.1], [510.7, 0.41], [511.7, 0.5], [512.4, 0.58], [513.2, 0.47], [514.2, 0.47], [515.5, 0.41], [516.8, 0.26], [518.5, 0.04], [519.1, 0],
  [520.4, 0.21], [521.1, 0.16], [521.9, 0.49], [522.9, 0.54], [523.9, 0.59], [524.9, 0.39], [525.5, 0.43], [526.5, 0.26], [527.8, 0.1], [529.1, 0],
  [530.1, 0.2], [531.1, 0.18], [531.8, 0.43], [532.7, 0.46], [533.4, 0.4], [534.4, 0.57], [535.0, 0.48], [535.7, 0.61], [537.0, 0.49], [538.3, 0.26], [540.0, 0],
  [541.3, 0.21], [542.3, 0.36], [543.6, 0.59], [544.6, 0.58], [545.6, 0.31], [546.6, 0.5], [547.6, 0.47], [548.5, 0.26], [550.8, 0],
  [552.2, 0.21], [553.1, 0.34], [554.5, 0.59], [555.5, 0.68], [556.4, 0.51], [557.1, 0.47], [557.8, 0.52], [558.7, 0.32], [560.1, 0.1], [561.0, 0],
  [562.4, 0.27], [563.3, 0.24], [564.0, 0.51], [564.7, 0.45], [566.0, 0.65], [567.0, 0.49], [567.6, 0.24], [568.6, 0.45], [569.6, 0.26], [570.6, 0.15], [571.9, 0],
  [572.9, 0.15], [573.9, 0.32], [574.9, 0.42], [575.5, 0.49], [576.5, 0.47], [577.5, 0.32], [578.8, 0.1], [579.8, 0],
  [581.1, 0.21], [582.4, 0.33], [583.1, 0.24], [584.1, 0.36], [584.7, 0.45], [585.7, 0.41], [586.7, 0.39], [588.0, 0.15], [589.7, 0],
  [591.0, 0.15], [592.0, 0.3], [592.9, 0.44], [593.9, 0.49], [594.9, 0.41], [595.9, 0.39], [596.9, 0.26], [598.6, 0.1], [600.2, 0],
  [601.2, 0.15], [602.2, 0.37], [603.2, 0.25], [604.1, 0.51], [605.1, 0.57], [606.4, 0.47], [607.8, 0.26], [609.4, 0.1], [611.1, 0],
  [612.0, 0.15], [613.0, 0.49], [614.0, 0.6], [615.0, 0.57], [616.0, 0.61], [617.0, 0.57], [618.0, 0.46], [619.3, 0.15], [620.9, 0],
  [621.9, 0.28], [622.9, 0.43], [623.9, 0.35], [624.5, 0.65], [625.5, 0.61], [626.2, 0.56], [626.8, 0.61], [628.2, 0.4], [629.5, 0.15], [630.1, 0.01],
  [631.1, 0.21], [631.8, 0.4], [632.8, 0.35], [633.8, 0.5], [634.4, 0.56], [635.4, 0.65], [636.4, 0.54], [637.0, 0.56], [638.0, 0.43], [639.3, 0.26], [641.3, 0],
  [642.6, 0.28], [643.6, 0.52], [644.6, 0.47], [645.6, 0.56], [646.3, 0.57], [647.2, 0.52], [648.6, 0.29], [649.9, 0.15], [651.2, 0],
  [652.6, 0.26], [653.5, 0.4], [654.5, 0.25], [654.8, 0.52], [655.9, 0.6], [656.5, 0.43], [657.4, 0.53], [658.4, 0.43], [659.7, 0.21], [661.7, 0],
  [662.7, 0.15], [663.7, 0.4], [664.7, 0.52], [665.3, 0.54], [666.0, 0.55], [667.0, 0.32], [668.0, 0.46], [668.9, 0.26], [670.6, 0.1], [671.6, 0],
  [672.9, 0.31], [673.9, 0.22], [674.9, 0.21], [676.2, 0.36], [677.2, 0.54], [678.2, 0.59], [679.2, 0.43], [680.1, 0.15], [681.8, 0],
  [682.8, 0.12], [683.8, 0.11], [684.8, 0.29], [685.8, 0.19], [686.7, 0.16], [688.0, 0.11], [689.7, 0.07], [691.0, 0],
  [692.3, 0.12], [693.3, 0.31], [694.3, 0.29], [694.9, 0.41], [695.9, 0.26], [696.9, 0.46], [698.3, 0.36], [699.2, 0.29], [700.2, 0.15], [701.5, 0],
  [702.9, 0.1], [704.2, 0.24], [705.2, 0.13], [706.2, 0.23], [707.2, 0.1], [708.6, 0],
  [709.6, 0.11], [710.6, 0.32], [711.6, 0.34], [712.6, 0.38], [713.2, 0.34], [714.2, 0.36], [715.2, 0.26], [716.5, 0.15], [718.1, 0.04], [719.5, 0],
  [720.8, 0.1], [721.8, 0.18], [723.1, 0.24], [724.1, 0.16], [725.2, 0.09], [726.1, 0.04], [727.4, 0.15], [728.4, 0.18], [729.4, 0.28],
  [730.4, 0.32], [731.1, 0.22], [731.7, 0.41], [732.7, 0.47], [733.3, 0.38], [734.0, 0.54], [735.0, 0.38], [736.3, 0.21], [738.6, 0],
  [739.9, 0.15], [740.9, 0.29], [741.9, 0.26], [742.9, 0.32], [743.9, 0.3], [744.8, 0.24], [745.8, 0.13], [747.1, 0.01],
  [748.1, 0.11], [749.1, 0.31], [749.8, 0.26], [750.5, 0.44], [751.2, 0.5], [751.8, 0.52], [752.8, 0.44], [753.5, 0.25], [754.5, 0.49],
  [755.2, 0.42], [755.9, 0.36], [756.9, 0.15], [758.2, 0],
  [759.2, 0.18], [760.2, 0.4], [760.9, 0.52], [761.5, 0.48], [762.6, 0.49], [763.6, 0.35], [764.9, 0.15], [765.9, 0.07], [766.9, 0.02],
  [767.9, 0.04], [768.9, 0.12], [769.9, 0.24], [770.9, 0.49], [771.6, 0.56], [772.3, 0.48], [772.9, 0.33], [773.6, 0.54], [774.6, 0.59],
  [775.6, 0.38], [777.0, 0.15], [778.6, 0.01],
  [779.6, 0.12], [780.7, 0.48], [781.3, 0.44], [782.0, 0.57], [782.7, 0.5], [783.7, 0.52], [784.7, 0.38], [786.0, 0.21], [788.0, 0.04], [789.0, 0.02],
  [790.0, 0.15], [791.0, 0.42], [792.1, 0.58], [793.1, 0.67], [794.1, 0.62], [794.7, 0.66], [795.7, 0.53], [796.7, 0.38], [798.1, 0.21], [800.1, 0],
  [801.4, 0.21], [802.4, 0.37], [803.1, 0.2], [803.8, 0.54], [804.5, 0.6], [805.5, 0.44], [806.1, 0.45], [806.8, 0.61], [807.8, 0.4], [808.8, 0.4], [809.8, 0.1], [810.8, 0],
  [812.2, 0.21], [813.2, 0.48], [814.2, 0.46], [815.5, 0.59], [816.2, 0.59], [817.2, 0.53], [818.2, 0.38], [819.5, 0.15], [821.2, 0.04],
  [822.6, 0.21], [823.6, 0.49], [824.6, 0.5], [825.2, 0.62], [826.2, 0.54], [827.2, 0.61], [828.3, 0.55], [829.6, 0.38], [830.9, 0.15], [832.3, 0],
  [833.3, 0.1], [834.0, 0.33], [835.0, 0.52], [835.6, 0.62], [836.6, 0.76], [837.3, 0.64], [838.3, 0.74], [839.0, 0.49], [840.0, 0.18], [841.0, 0.28], [842.0, 0.22], [843.0, 0],
  [844.0, 0.18], [845.0, 0.46], [845.7, 0.34], [846.7, 0.55], [847.7, 0.63], [848.7, 0.49], [849.7, 0.32], [850.7, 0.15], [852.1, 0.02], [853.1, 0],
  [854.1, 0.21], [855.1, 0.53], [856.1, 0.46], [856.7, 0.6], [857.8, 0.63], [858.8, 0.49], [860.1, 0.32], [861.8, 0.1], [863.1, 0],
  [864.1, 0.21], [865.1, 0.48], [866.1, 0.61], [866.8, 0.62], [867.8, 0.63], [868.8, 0.55], [869.8, 0.44], [870.8, 0.27], [872.8, 0.1], [873.8, 0],
  [875.2, 0.27], [876.2, 0.67], [877.2, 0.74], [878.2, 0.77], [878.9, 0.73], [879.9, 0.66], [880.9, 0.58], [882.2, 0.38], [883.9, 0],
  [885.2, 0.36], [886.2, 0.61], [887.2, 0.31], [887.9, 0.62], [888.6, 0.69], [889.6, 0.72], [890.3, 0.58], [891.3, 0.62], [892.3, 0.38], [893.6, 0.15], [894.3, 0],
  [895.6, 0.27], [896.6, 0.52], [897.6, 0.55], [898.3, 0.59], [899.3, 0.55], [900.3, 0.61], [901.3, 0.44], [902.4, 0.27], [904.4, 0],
  [905.4, 0.15], [906.4, 0.41], [907.4, 0.52], [908.0, 0.65], [908.7, 0.76], [909.4, 0.65], [910.0, 0.7], [911.0, 0.44], [912.0, 0.33], [912.7, 0.27], [914.4, 0],
  [915.4, 0.2], [916.4, 0.14], [917.1, 0.46], [918.1, 0.59], [919.1, 0.49], [919.8, 0.7], [920.8, 0.7], [921.8, 0.49], [922.8, 0.27], [924.5, 0],
  [925.8, 0.24], [926.8, 0.32], [928.2, 0.55], [929.2, 0.54], [930.1, 0.52], [931.2, 0.24], [932.2, 0.43], [933.2, 0.32], [934.2, 0.1],
  [935.2, 0.16], [935.9, 0.08], [936.9, 0.32], [937.9, 0.47], [938.9, 0.66], [939.5, 0.63], [940.6, 0.54], [941.6, 0.38], [942.9, 0.21], [944.6, 0],
  [945.6, 0.14], [946.6, 0.35], [947.6, 0.27], [948.6, 0.47], [949.6, 0.57], [950.6, 0.59], [951.3, 0.67], [952.3, 0.55], [953.3, 0.32], [954.6, 0.15], [955.9, 0],
  [957.3, 0.27], [958.3, 0.49], [959.0, 0.45], [959.6, 0.54], [960.7, 0.28], [961.3, 0.5], [962.4, 0.57], [963.4, 0.44], [964.7, 0.27], [966.4, 0],
  [967.7, 0.21], [968.7, 0.37], [969.7, 0.58], [970.7, 0.21], [971.4, 0.44], [972.4, 0.52], [973.1, 0.6], [974.1, 0.55], [975.1, 0.38], [976.4, 0.15], [978.1, 0],
  [979.1, 0.28], [980.1, 0.18], [981.1, 0.44], [982.1, 0.49], [982.8, 0.52], [983.8, 0.45], [984.4, 0.52], [985.5, 0.44], [986.8, 0.21], [988.8, 0.01], [989.5, 0.04],
  [990.5, 0.28], [991.5, 0.38], [992.5, 0.62], [993.2, 0.52], [993.8, 0.64], [994.8, 0.71], [995.9, 0.46], [996.5, 0.41], [997.5, 0.27], [998.5, 0.15], [999.5, 0.04], [1000, 0.02],
]

const timeTicks = [0, 200, 400, 600, 800, 1000]
const northToroidalTicks = [0, 0.25, 0.5, 0.75, 1.0, 1.25]
const northPolarTicks = [0, 0.2, 0.4, 0.6]
const southToroidalTicks = [0, 0.25, 0.5, 0.75, 1.0, 1.25]
const southPolarTicks = [0, 0.2, 0.4, 0.6, 0.8]

const RED = '#ff0000'
const BLUE = '#0000ff'
const FONT = 'DejaVu Serif'
const W = 4805
const H = 2646

const toPoints = (pairs: number[][]) => pairs.map(([t, v]) => ({ t, v }))

// rounded tops, sharp V at the zero level (the toroidal flux looks like |sin|)
function cuspCurve(context: any) {
  let xs: number[] = []
  let ys: number[] = []
  return {
    areaStart() {},
    areaEnd() {},
    lineStart() {
      xs = []
      ys = []
    },
    point(x: number, y: number) {
      xs.push(+x)
      ys.push(+y)
    },
    lineEnd() {
      const n = xs.length
      if (!n) return
      context.moveTo(xs[0], ys[0])
      if (n === 1) return
      const base = Math.max(...ys)
      const s: number[] = []
      for (let i = 0; i < n - 1; i++) s.push((ys[i + 1] - ys[i]) / (xs[i + 1] - xs[i] || 1))
      const mIn: number[] = new Array(n).fill(0)
      const mOut: number[] = new Array(n).fill(0)
      for (let i = 0; i < n; i++) {
        if (i === 0) { mIn[i] = mOut[i] = ys[0] >= base - 2 ? s[0] * 1.5 : s[0]; continue }
        if (i === n - 1) { mIn[i] = mOut[i] = s[n - 2]; continue }
        const a = s[i - 1]
        const b = s[i]
        if (a > 0 && b < 0 && ys[i] >= base - 2) {
          mIn[i] = a * 1.5
          mOut[i] = b * 1.5
        } else if (a * b <= 0) {
          mIn[i] = mOut[i] = 0
        } else {
          let m = (a + b) / 2
          const lim = 3 * Math.min(Math.abs(a), Math.abs(b))
          if (Math.abs(m) > lim) m = Math.sign(m) * lim
          mIn[i] = mOut[i] = m
        }
      }
      for (let i = 0; i < n - 1; i++) {
        const d = (xs[i + 1] - xs[i]) / 3
        context.bezierCurveTo(
          xs[i] + d, ys[i] + mOut[i] * d,
          xs[i + 1] - d, ys[i + 1] - mIn[i + 1] * d,
          xs[i + 1], ys[i + 1],
        )
      }
    },
  }
}

const tickStyle = { fontSize: 71, fontFamily: FONT, fill: '#000' }
const lineStyle = { stroke: '#000', strokeWidth: 3 }

function Panel({ top, toroidal, polar, leftDomain, leftTicks, rightDomain, rightTicks }: any) {
  return (
    <div style={{ position: 'absolute', left: 0, top }}>
      <LineChart width={W} height={1290} margin={{ top: 136, right: 0, bottom: 0, left: 0 }}>
        <XAxis
          xAxisId="b" dataKey="t" type="number" domain={[0, 1000]} ticks={timeTicks} allowDataOverflow
          height={125} tickSize={14} tickMargin={20} tick={tickStyle} tickLine={lineStyle} axisLine={lineStyle}
          interval={0}
        />
        <YAxis
          yAxisId="l" type="number" domain={leftDomain} ticks={leftTicks} allowDataOverflow width={334}
          tickSize={14} tickMargin={19} tick={tickStyle} tickLine={lineStyle} axisLine={lineStyle}
          tickFormatter={(v: number) => v.toFixed(2)} interval={0}
        />
        <YAxis
          yAxisId="r" orientation="right" type="number" domain={rightDomain} ticks={rightTicks} allowDataOverflow
          width={285} tickSize={14} tickMargin={19} tick={tickStyle} tickLine={lineStyle} axisLine={lineStyle}
          tickFormatter={(v: number) => v.toFixed(1)} interval={0}
        />
        <ReferenceLine xAxisId="b" yAxisId="l" y={leftDomain[1]} stroke="#000" strokeWidth={3} ifOverflow="visible" />
        <Line
          xAxisId="b" yAxisId="l" data={toPoints(toroidal)} dataKey="v" type={cuspCurve as any}
          stroke={RED} strokeWidth={5.5} strokeLinejoin="round" dot={false} activeDot={false} isAnimationActive={false}
        />
        <Line
          xAxisId="b" yAxisId="r" data={toPoints(polar)} dataKey="v" type="linear"
          stroke={BLUE} strokeWidth={3.5} strokeLinejoin="round" dot={false} activeDot={false} isAnimationActive={false}
        />
      </LineChart>
    </div>
  )
}

function AxisTitle({ x, y, color, name, exp, length }: any) {
  return (
    <text
      x={x} y={y} transform={`rotate(-90 ${x} ${y})`} textAnchor="middle" fill={color} fontSize={56}
      textLength={length} lengthAdjust="spacingAndGlyphs"
    >
      <tspan fontFamily={FONT} fontWeight="bold">{name} (</tspan>
      <tspan fontFamily="Liberation Serif" fontStyle="italic">x</tspan>
      <tspan fontFamily="Liberation Serif">10</tspan>
      <tspan fontFamily="Liberation Serif" fontSize={40} dy={-24}>{exp}</tspan>
      <tspan fontFamily="Liberation Serif" fontStyle="italic" dy={24}>Mx</tspan>
      <tspan fontFamily={FONT} fontWeight="bold">)</tspan>
    </text>
  )
}

export default function App() {
  // the figure is laid out at 4805x2646; squeeze it if the viewport is narrower so nothing is cut
  const vw = typeof window !== 'undefined' ? window.innerWidth : W
  const vh = typeof window !== 'undefined' ? window.innerHeight : H
  const sx = Math.min(1, vw / W)
  const sy = Math.min(1, vh / H)
  return (
    <div
      style={{
        position: 'absolute', left: 0, top: 0, width: W, height: H, background: '#fff', overflow: 'hidden',
        transform: `scale(${sx}, ${sy})`, transformOrigin: '0 0',
      }}
    >
      <Panel
        top={0} toroidal={northToroidal} polar={northPolar}
        leftDomain={[-0.0616, 1.316]} leftTicks={northToroidalTicks}
        rightDomain={[-0.033, 0.709]} rightTicks={northPolarTicks}
      />
      <Panel
        top={1235} toroidal={southToroidal} polar={southPolar}
        leftDomain={[-0.066, 1.406]} leftTicks={southToroidalTicks}
        rightDomain={[-0.0385, 0.8235]} rightTicks={southPolarTicks}
      />
      <svg width={W} height={H} style={{ position: 'absolute', left: 0, top: 0, pointerEvents: 'none' }}>
        <text x={2427} y={111} textAnchor="middle" fontFamily={FONT} fontSize={67} fill="#000">Flux in Northern Hemisphere</text>
        <text x={2427} y={1347} textAnchor="middle" fontFamily={FONT} fontSize={67} fill="#000">Flux in Southern Hemisphere</text>
        <text x={2427} y={2582} textAnchor="middle" fontFamily={FONT} fontSize={67} fill="#000">Time (years)</text>
        <AxisTitle x={108} y={650} color={RED} name="Toroidal Flux" exp="24" length={707} />
        <AxisTitle x={108} y={1885} color={RED} name="Toroidal Flux" exp="24" length={707} />
        <AxisTitle x={4730} y={650} color={BLUE} name="Polar Flux" exp="21" length={605} />
        <AxisTitle x={4730} y={1885} color={BLUE} name="Polar Flux" exp="21" length={605} />
      </svg>
    </div>
  )
}
